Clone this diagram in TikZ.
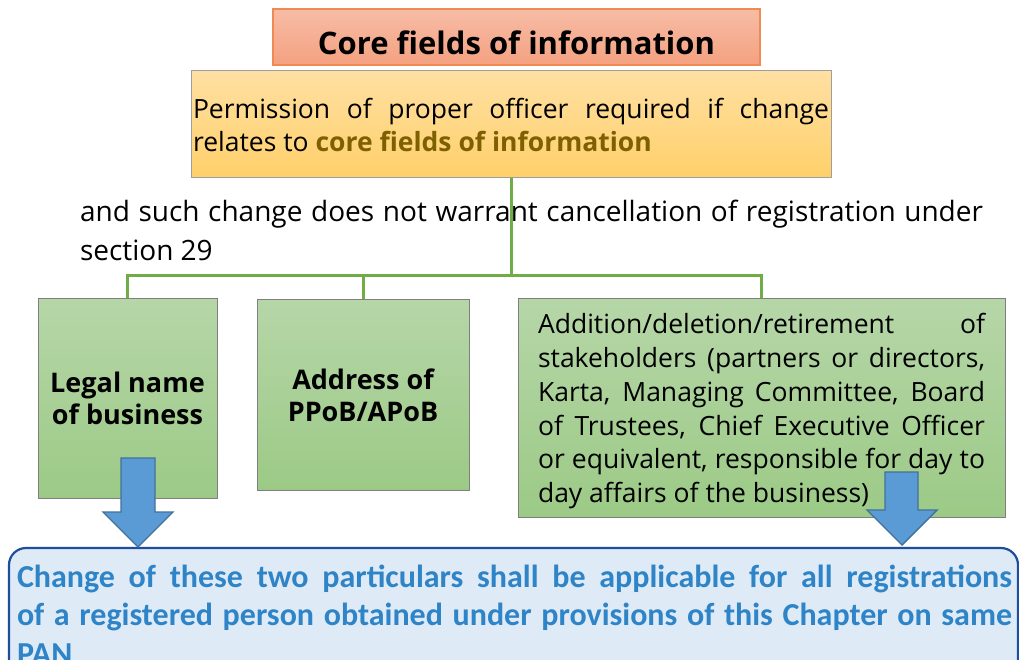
\documentclass[tikz,border=0pt]{standalone}
\usepackage{fontspec}
\usepackage{graphicx}
\setmainfont{Open Sans}
\newfontfamily\calib{Carlito}
\definecolor{titletop}{HTML}{F7BCA6}
\definecolor{titlebot}{HTML}{F4A180}
\definecolor{titleline}{HTML}{F08A55}
\definecolor{permtop}{HTML}{FFE0A3}
\definecolor{permbot}{HTML}{FFD06A}
\definecolor{permline}{HTML}{9E9E9E}
\definecolor{olivetext}{HTML}{7F6000}
\definecolor{greentop}{HTML}{B6D6A8}
\definecolor{greenbot}{HTML}{9CCA86}
\definecolor{greenline}{HTML}{7F7F7F}
\definecolor{conncol}{HTML}{70AD47}
\definecolor{bluefill}{HTML}{DEEBF7}
\definecolor{blueline}{HTML}{1F4E9E}
\definecolor{bluetext}{HTML}{2E84C6}
\definecolor{arrowfill}{HTML}{5B9BD5}
\definecolor{arrowline}{HTML}{41719C}
\newsavebox\jlbox
\newcommand\jl[2]{\sbox\jlbox{#2}\ifdim\wd\jlbox>#1\relax\resizebox{#1}{\height}{\usebox\jlbox}\else\makebox[#1][s]{#2}\fi}
\newcommand\nl[2]{\sbox\jlbox{#2}\ifdim\wd\jlbox>#1\relax\resizebox{#1}{\height}{\usebox\jlbox}\else\usebox\jlbox\fi}
\tikzset{
  boxbase/.style={inner sep=0pt, outer sep=0pt, rectangle},
  titlebox/.style={boxbase, top color=titletop, bottom color=titlebot, draw=titleline, line width=1.2pt},
  permbox/.style={boxbase, top color=permtop, bottom color=permbot, draw=permline, line width=1pt},
  greenbox/.style={boxbase, top color=greentop, bottom color=greenbot, draw=greenline, line width=1pt},
  bluebox/.style={boxbase, fill=bluefill, draw=blueline, line width=2.2pt, rounded corners=17pt},
  conn/.style={draw=conncol, line width=3pt},
  txt/.style={inner sep=0pt, outer sep=0pt},
  blockarrow/.style={fill=arrowfill, draw=arrowline, line width=1.4pt, line join=miter},
  permfont/.style={font=\fontsize{26.5}{33}\selectfont},
  boldfont/.style={font=\fontsize{27}{32}\selectfont\bfseries},
  bluefont/.style={font=\fontsize{32}{38}\calib\bfseries, text=bluetext}
}
\begin{document}
\begin{tikzpicture}[x=1pt,y=-1pt]
\useasboundingbox (0,0) rectangle (1019,660);
\fill[white] (0,0) rectangle (1019,660);

% title
\node[titlebox, minimum width=487pt, minimum height=56pt] (title) at (516.5,37) {};
\node[txt, anchor=base, font=\fontsize{31}{37}\selectfont\bfseries] (titlet) at (516.5,55) {Core fields of information};

% permission box
\node[permbox, minimum width=640pt, minimum height=107pt] (perm) at (511,124.5) {};
\node[txt, permfont, anchor=base west] (perm1) at (193,119) {\jl{636pt}{Permission of proper officer required if change}};
\node[txt, permfont, anchor=base west] (perm2) at (193,152) {\nl{636pt}{relates to \textbf{\color{olivetext}core fields of information}}};

% bottom blue box
\node[bluebox, minimum width=1009pt, minimum height=140pt, anchor=north west] (blue) at (9,548) {};

% green boxes
\node[greenbox, minimum width=179pt, minimum height=200pt, anchor=north west] (b1) at (38,298) {};
\node[greenbox, minimum width=212pt, minimum height=191pt, anchor=north west] (b2) at (257,299) {};
\node[greenbox, minimum width=487pt, minimum height=219pt, anchor=north west] (b3) at (518,298) {};

% connectors
\coordinate (jn) at (511,275);
\draw[conn] (perm.south) -- (jn);
\draw[conn] (b1.north) |- (jn) -| (b3.north);
\draw[conn] (b2.north) -- (b2.north |- jn);

% intermediate text
\node[txt, anchor=base west, font=\fontsize{28}{38}\selectfont] (mid1) at (80,222) {\jl{903pt}{and such change does not warrant cancellation of registration under}};
\node[txt, anchor=base west, font=\fontsize{28}{38}\selectfont] (mid2) at (80,260) {section 29};

% box texts
\node[txt, boldfont, anchor=base] (b1a) at (127.5,392) {Legal name};
\node[txt, boldfont, anchor=base] (b1b) at (127.5,424) {of business};
\node[txt, boldfont, anchor=base] (b2a) at (363,389) {Address of};
\node[txt, boldfont, anchor=base] (b2b) at (363,421) {PPoB/APoB};

\node[txt, permfont, anchor=base west] (b3l1) at (538,333) {\jl{447pt}{Addition/deletion/retirement of}};
\node[txt, permfont, anchor=base west] (b3l2) at (538,367) {\jl{447pt}{stakeholders (partners or directors,}};
\node[txt, permfont, anchor=base west] (b3l3) at (538,401) {\jl{447pt}{Karta, Managing Committee, Board}};
\node[txt, permfont, anchor=base west] (b3l4) at (538,435) {\jl{447pt}{of Trustees, Chief Executive Officer}};
\node[txt, permfont, anchor=base west] (b3l5) at (538,468) {\jl{447pt}{or equivalent, responsible for day to}};
\node[txt, permfont, anchor=base west] (b3l6) at (538,502) {\nl{447pt}{day affairs of the business)}};

% blue text
\node[txt, bluefont, anchor=base west] (bt1) at (17,587) {\jl{995pt}{Change of these two particulars shall be applicable for all registrations}};
\node[txt, bluefont, anchor=base west] (bt2) at (17,625) {\jl{995pt}{of a registered person obtained under provisions of this Chapter on same}};
\node[txt, bluefont, anchor=base west] (bt3) at (17,664) {PAN};

% block arrows
\draw[blockarrow] (121,458) -- (155,458) -- (155,512) -- (173,512) -- (138,547) -- (103,512) -- (121,512) -- cycle;
\draw[blockarrow] (885,472) -- (918,472) -- (918,510) -- (937,510) -- (902,545) -- (867,510) -- (885,510) -- cycle;
\end{tikzpicture}
\end{document}
